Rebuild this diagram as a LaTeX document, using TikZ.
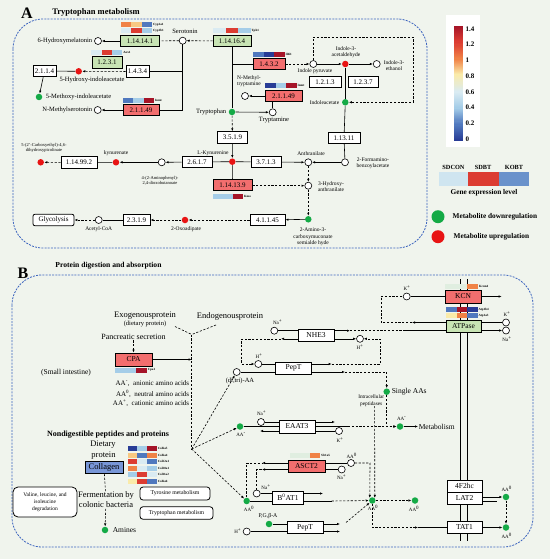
\documentclass[tikz,border=0pt]{standalone}
\usepackage{fontspec}
\setmainfont{Liberation Serif}
\usetikzlibrary{arrows.meta}
\definecolor{bgc}{RGB}{240,244,237}
\definecolor{panblue}{RGB}{60,100,190}
\definecolor{boxgreen}{RGB}{200,228,180}
\definecolor{boxred}{RGB}{242,110,110}
\definecolor{colblue}{RGB}{120,150,215}
\definecolor{upred}{RGB}{232,20,20}
\definecolor{dngreen}{RGB}{20,170,70}
\definecolor{hdr}{RGB}{165,20,40}
\definecolor{hr}{RGB}{220,60,50}
\definecolor{ho}{RGB}{240,130,70}
\definecolor{hlo}{RGB}{248,200,130}
\definecolor{hy}{RGB}{250,235,170}
\definecolor{hp}{RGB}{218,235,242}
\definecolor{hvp}{RGB}{224,238,224}
\definecolor{hlb}{RGB}{165,205,232}
\definecolor{hb}{RGB}{80,120,190}
\definecolor{hdb}{RGB}{40,60,150}
\newcommand{\fsz}[2]{\fontsize{#1}{#2}\selectfont}
% one heatmap row: x, y, cell width, three colours, gene
\newcommand{\hmrow}[7]{%
  \fill[#4] (#1,#2) rectangle ++(#3,5);
  \fill[#5] (#1+#3,#2) rectangle ++(#3,5);
  \fill[#6] (#1+2*#3,#2) rectangle ++(#3,5);
  \node[gene] at (#1+3*#3+0.5,#2+2.5) {#7};}
\tikzset{
  enz/.style={draw, line width=0.9pt, fill=white, minimum height=11.5, inner sep=1pt, font=\fsz{7}{8}},
  tbox/.style={draw, line width=0.8pt, fill=white, minimum height=12, inner sep=1pt, font=\fsz{7.5}{8}},
  gbx/.style={fill=boxgreen},
  rbx/.style={fill=boxred},
  met/.style={circle, draw, line width=0.6pt, fill=white, minimum size=7, inner sep=0},
  upm/.style={circle, fill=upred, minimum size=6.5, inner sep=0},
  dnm/.style={circle, fill=dngreen, minimum size=6.5, inner sep=0},
  lbl/.style={font=\fsz{6.5}{7}, inner sep=0.5pt, align=center},
  sml/.style={font=\fsz{5}{5.6}, inner sep=0.5pt, align=center},
  bt/.style={font=\fsz{8.5}{9}, inner sep=0.5pt, align=center},
  ttl/.style={font=\bfseries\fsz{8.5}{9}, inner sep=0.5pt},
  gene/.style={font=\bfseries\fsz{3.2}{3.5}, inner sep=0.3pt, anchor=west},
  cbl/.style={font=\bfseries\fsz{7}{7}, inner sep=0.3pt, anchor=west},
  rbox/.style={draw, line width=0.8pt, fill=white, rounded corners=3, inner sep=1pt, align=center},
  arr/.style={-{Latex[length=3pt,width=2.4pt]}},
  dsh/.style={dash pattern=on 2.2pt off 1.6pt},
  pan/.style={draw=panblue, dash pattern=on 2pt off 1.2pt, line width=0.8pt, rounded corners=30},
}
\begin{document}
\begin{tikzpicture}[x=1pt,y=-1pt,line width=0.6pt]
\useasboundingbox (0,0) rectangle (550,559);
\fill[bgc] (0,0) rectangle (550,559);

% ---------- A: tryptophan metabolism
\node[font=\bfseries\fsz{16}{16}] (tA) at (27,13) {A};
\node[ttl] (tAt) at (96,12) {Tryptophan metabolism};
\draw[pan] (13,19) rectangle (427,248);

\node[enz,gbx,minimum width=39] (e1) at (140,41) {1.14.14.1};
\node[enz,gbx,minimum width=38] (e2) at (232,41) {1.14.16.4};
\node[enz,gbx,minimum width=30] (e3) at (107,62.5) {1.2.3.1};
\node[enz,minimum width=23] (e4) at (44.5,71) {2.1.1.4};
\node[enz,minimum width=23] (e5) at (137.5,71.5) {1.4.3.4};
\node[enz,rbx,minimum width=36] (e6) at (141,110) {2.1.1.49};
\node[enz,rbx,minimum width=32] (e7) at (269,64) {1.4.3.2};
\node[enz,rbx,minimum width=37] (e8) at (283.5,96) {2.1.1.49};
\node[enz,minimum width=32] (e9) at (325,82) {1.2.1.3};
\node[enz,minimum width=30] (e10) at (363,82) {1.2.3.7};
\node[enz,minimum width=32] (e11) at (344,138) {1.13.11};
\node[enz,minimum width=30] (e12) at (232.5,137.5) {3.5.1.9};
\node[enz,minimum width=30] (e13) at (266,162) {3.7.1.3};
\node[enz,minimum width=30] (e14) at (197,162) {2.6.1.7};
\node[enz,minimum width=36] (e15) at (79,162.5) {1.14.99.2};
\node[enz,rbx,minimum width=39] (e16) at (232.5,185) {1.14.13.9};
\node[enz,minimum width=35] (e17) at (267.5,220) {4.1.1.45};
\node[enz,minimum width=27] (e18) at (136.5,220) {2.3.1.9};
\node[enz,rounded corners=2,minimum width=41,line width=0.8pt] (gly) at (53.5,220) {Glycolysis};

% heatmaps
\hmrow{121}{22.5}{10.3}{ho}{hlo}{hb}{Cyp1a1}
\hmrow{121}{28.3}{10.3}{hp}{hr}{hlb}{Cyp1b1}
\hmrow{213}{28.3}{12.5}{hp}{hr}{hlb}{Tph1}
\hmrow{91.4}{50}{10.3}{hp}{hr}{hlb}{Aox1}
\hmrow{253}{52}{10.5}{hb}{hdb}{hdr}{Il4i1}
\hmrow{265}{83}{10.5}{hdb}{hlb}{hdr}{Inmt}
\hmrow{123}{98}{10.3}{hb}{hlb}{hdr}{Inmt}
\hmrow{213}{193.5}{10}{hlb}{hlb}{hdr}{Kmo}

% compounds
\node[met] (c6hm) at (98,41) {};
\node[lbl,anchor=east] (l6hm) at (93,41) {6-Hydroxymelatonin};
\node[met] (cser) at (182.7,40.7) {};
\node[lbl] (lser) at (185,31.5) {Serotonin};
\node[upm] (c5hi) at (78.7,71.3) {};
\node[lbl] (l5hi) at (92,79.5) {5-Hydroxy-indoleacetate};
\node[dnm] (c5mi) at (39,97) {};
\node[lbl,anchor=west] (l5mi) at (45,97) {5-Methoxy-indoleacetate};
\node[met] (cnms) at (97.7,110) {};
\node[lbl,anchor=east] (lnms) at (93,110) {N-Methylserotonin};
\node[dnm] (ctrp) at (232,112) {};
\node[lbl,anchor=east] (ltrp) at (227,112) {Tryptophan};
\node[met] (ctra) at (272.7,112.3) {};
\node[lbl] (ltra) at (274,120.5) {Tryptamine};
\node[met] (cnmt) at (245,96) {};
\node[sml,font=\fsz{5.5}{6}] (lnmt) at (249,81.5) {N-Methyl-\\tryptamine};
\node[met] (cipy) at (313.3,64) {};
\node[sml,font=\fsz{5.5}{6}] (lipy) at (315,71.5) {Indole pyruvate};
\node[upm] (ciac) at (345.3,64) {};
\node[sml,font=\fsz{5.5}{6}] (liac) at (346,52.5) {Indole-3-\\acetaldehyde};
\node[met] (cie) at (376.7,64) {};
\node[sml,font=\fsz{5.5}{6}] (lie) at (394,65.5) {Indole-3-\\ethanol};
\node[dnm] (cia) at (345.3,102.3) {};
\node[sml,font=\fsz{5.5}{6},anchor=east] (lia) at (340,102.3) {Indoleacetate};
\node[met] (cfb) at (345,162.3) {};
\node[sml,font=\fsz{5.5}{6}] (lfb) at (373,163) {2-Formamino-\\benzoylacetate};
\node[met] (cant) at (308.3,162.3) {};
\node[sml,font=\fsz{5.5}{6}] (lant) at (311,153.5) {Anthranilate};
\node[met] (c3ha) at (308.3,185.7) {};
\node[sml,font=\fsz{5.5}{6}] (l3ha) at (331,187) {3-Hydroxy-\\anthranilate};
\node[dnm] (cacm) at (308.3,219.3) {};
\node[sml,font=\fsz{5.5}{6.5}] (lacm) at (313,237) {2-Amino-3-\\carboxymuconate\\semialde hyde};
\node[upm] (coxo) at (185,220) {};
\node[sml,font=\fsz{5.5}{6}] (loxo) at (186,229) {2-Oxoadipate};
\node[met] (cacoa) at (98.7,220) {};
\node[sml,font=\fsz{5.5}{6}] (lacoa) at (98.7,229) {Acetyl-CoA};
\node[upm] (ckyn) at (232.3,161.7) {};
\node[sml,font=\fsz{5.5}{6}] (lkyn) at (213,153) {L-Kynurenine};
\node[met] (cadb) at (161.7,162.3) {};
\node[sml,font=\fsz{4.5}{5.5}] (ladb) at (160,181) {4-(2-Aminophenyl)-\\2,4-dioxobutanoate};
\node[upm] (ckna) at (116,162.3) {};
\node[sml,font=\fsz{5.5}{6}] (lkna) at (116,153) {kynurenate};
\node[upm] (ccdp) at (40.7,162.3) {};
\node[sml,font=\fsz{4.5}{5.5}] (lcdp) at (44,148) {5-(2'-Carboxyethyl)-4,6-\\dihydroxypicolinate};

% reactions
\draw[arr] (e1) -- (c6hm);
\draw[dsh] (cser) -- (e1);
\draw[dsh,arr] (e2) -- (cser);
\draw[dsh,arr] (e5) -- (c5hi);
\draw (c5hi) -- (e4);
\draw[arr] (e4) -- (c5mi);
\draw[arr] (e6) -- (cnms);
\draw (cser) |- (e6.east);
\draw (cser |- e5.east) -- (e5.east);
\draw (e2) -- (ctrp);
\draw (e2 |- e7.west) -- (e7.west);
\draw[arr] (ctrp) -- (ctra);
\draw (ctra) -- (ctra |- e8.south);
\draw[arr] (e8) -- (cnmt);
\draw[dsh,arr] (e7) -- (cipy);
\draw[arr] (cipy) -- (ciac);
\draw[arr] (ciac) -- (cie);
\draw (ciac) -- (cia);
\coordinate (lp1) at (313.3,37);
\coordinate (lp2) at (413,37);
\coordinate (lp3) at (413,102.3);
\draw[dsh,arr] (cipy) -- (lp1) -- (lp2) -- (lp3) -- (cia);
\draw (cia) -- (e11);
\draw (e11) -- (cfb);
\draw[arr] (cfb) -- (cant);
\draw[arr] (e13) -- (cant);
\draw[dsh,arr] (cant) -- (c3ha);
\draw[dsh,arr] (e16.east |- c3ha) -- (c3ha);
\draw[dsh,arr] (c3ha) -- (cacm);
\draw[arr] (cacm) -- (e17);
\draw[dsh,arr] (e17) -- (coxo);
\draw[dsh,arr] (coxo) -- (e18);
\draw (e18) -- (cacoa);
\draw[dsh,arr] (cacoa) -- (gly);
\draw[dsh,arr] (ctrp) -- (e12);
\draw[arr] (e12) -- (ckyn);
\draw (ckyn) -- (e13);
\draw (ckyn) -- (e14);
\draw[arr] (e14) -- (cadb);
\draw[arr] (cadb) -- (ckna);
\draw (ckna) -- (e15);
\draw[dsh,arr] (e15) -- (ccdp);
\draw (ckyn) -- (e16);

% legend
\fill[white] (446,15) rectangle (480,147);
\foreach \ca/\cb [count=\k from 0] in {hdr/hr, hr/ho, ho/hy, hy/hp, hp/hlb, hlb/hb, hb/hdb}
  \foreach \i in {0,...,15}{
    \pgfmathtruncatemacro\pc{100-\i*100/15}
    \fill[\ca!\pc!\cb] (454,26+\k*16.43+\i*1.027) rectangle (463,26+\k*16.43+\i*1.027+1.2);
  }
\foreach \v in {1.4,1.2,1,0.8,0.6,0.4,0.2,0}
  \node[cbl] at (465,139-78.6*\v) {\v};
\node[font=\bfseries\fsz{6.3}{7}] (lsd) at (453.5,167) {SDCON};
\node[font=\bfseries\fsz{6.3}{7}] (lsb) at (483,167) {SDBT};
\node[font=\bfseries\fsz{6.3}{7}] (lkb) at (514,167) {KOBT};
\fill[hp!80!hlb] (439,172) rectangle (468,186);
\fill[hr] (468,172) rectangle (499,186);
\fill[hb!70!hlb] (499,172) rectangle (529,186);
\node[font=\bfseries\fsz{7.3}{8}] (lgel) at (484,192.5) {Gene expression level};
\node[dnm,minimum size=13] (lgd) at (438,216.7) {};
\node[font=\bfseries\fsz{7.3}{8},anchor=west] (lgdt) at (449,216.5) {Metabolite downregulation};
\node[upm,minimum size=13] (lgu) at (438,236.7) {};
\node[font=\bfseries\fsz{7.3}{8},anchor=west] (lgut) at (450,236.5) {Metabolite upregulation};

% ---------- B: protein digestion and absorption
\node[font=\bfseries\fsz{16}{16}] (tB) at (23,273) {B};
\node[ttl,font=\bfseries\fsz{7.6}{8}] (tBt) at (108.5,266) {Protein digestion and absorption};
\draw[pan] (12,275) rectangle (533,547);

% membrane
\draw[line width=0.7pt] (460,279) -- (460,541);
\draw[line width=0.7pt] (467,279) -- (467,541);

\node[bt] (exo) at (145,315.7) {Exogenousprotein};
\node[lbl] (diet) at (145,323.5) {(dietary protein)};
\node[bt] (endo) at (230,316) {Endogenousprotein};
\coordinate (ex1) at (175,326.5);
\coordinate (en1) at (216,325);
\coordinate (jn) at (191.7,334.5);
\coordinate (fan) at (191.7,449);
\draw[dsh] (ex1) -- (jn);
\draw[dsh] (en1) -- (jn);
\draw[dsh] (jn) -- (fan);
\node[bt,font=\fsz{8}{9}] (panc) at (133.5,337) {Pancreatic secretion};
\node[tbox,rbx,minimum width=37,minimum height=13] (cpa) at (133.5,359.5) {CPA};
\draw[dsh,arr] (panc) -- (cpa);
\draw[arr] (cpa) -- (cpa -| jn);
\hmrow{115}{367.5}{10.6}{hlb}{hlb}{hdr}{Cpa1}
\node[lbl,font=\fsz{7.5}{8}] (smi) at (66,373) {(Small intestine)};
\node[lbl,font=\fsz{7}{8},anchor=east] (aa1) at (190,384) {AA\textsuperscript{-}, \ anionic amino acids};
\node[lbl,font=\fsz{7}{8},anchor=east] (aa2) at (190,393.5) {AA\textsuperscript{0}, \ neutral amino acids};
\node[lbl,font=\fsz{7}{8},anchor=east] (aa3) at (190,403) {AA\textsuperscript{+}, \ cationic amino acids};

\node[font=\bfseries\fsz{8}{9}] (ndp) at (108,435) {Nondigestible peptides and proteins};
\node[bt] (dp1) at (103,445) {Dietary};
\node[bt] (dp2) at (103.5,455.5) {protein};
\node[draw,line width=0.8pt,fill=colblue,minimum width=38,minimum height=12,inner sep=1pt,font=\fsz{8.5}{9}] (col) at (104,467.5) {Collagen};
\hmrow{127.7}{446}{9.7}{hdb}{hlb}{hdr}{Col6a5}
\hmrow{127.7}{452.6}{9.7}{hlo}{hb}{ho}{Col6a4}
\hmrow{127.7}{459.2}{9.7}{hr}{hp}{hb}{Col22a1}
\hmrow{127.7}{465.8}{9.7}{ho}{hp}{hlb}{Col28a1}
\hmrow{127.7}{472.4}{9.7}{hlb}{hr}{hp}{Col11a2}
\hmrow{127.7}{479}{9.7}{hy}{hr}{hb}{Col6a6}
\node[rbox,rounded corners=5,minimum width=64,minimum height=30,font=\fsz{5.5}{7}] (vld) at (45,502) {Valine, leucine, and\\isoleucine\\degradation};
\node[bt,font=\fsz{8.5}{10}] (ferm) at (106,500) {Fermentation by\\colonic bacteria};
\draw[dsh] (col) -- (ferm);
\node[dnm] (amn) at (105,530) {};
\node[bt,font=\fsz{7.5}{8},anchor=west] (lamn) at (112,530) {Amines};
\draw[dsh,arr] (ferm) -- (amn);
\node[rbox,minimum width=70,minimum height=13,font=\fsz{5.8}{6}] (tyr) at (175,493.5) {Tyrosine metabolism};
\node[rbox,minimum width=73,minimum height=12.5,font=\fsz{5.8}{6}] (trpm) at (176.5,513) {Tryptophan metabolism};

% KCN and ATPase
\hmrow{445}{283.5}{11}{hvp}{hvp}{ho}{Kcnn4}
\node[tbox,rbx,minimum width=36,minimum height=13] (kcn) at (463,296.5) {KCN};
\hmrow{446}{307}{10.5}{hb}{hdr}{hdb}{Atp1b4}
\hmrow{446}{313}{10.5}{hy}{ho}{hb}{Atp1a3}
\node[tbox,gbx,minimum width=35] (atp) at (463.5,326.5) {ATPase};
\node[met] (kk) at (406.7,296.5) {};
\node[sml] (lkk) at (407,288) {K\textsuperscript{+}};
\coordinate (k1) at (501.7,296.5);
\draw (kk) -- (kcn);
\draw[arr] (kcn) -- (k1);
\node[met] (ak) at (506,322.5) {};
\node[sml] (lak) at (507,314) {K\textsuperscript{+}};
\node[met] (ana) at (506,330.5) {};
\node[sml] (lana) at (507,339) {Na\textsuperscript{+}};
\draw (ak) -- (ak -| atp.east);
\draw[arr] (atp.east |- ana) -- (ana);
\coordinate (a1) at (412,322.5);
\coordinate (a2) at (381,322.5);
\coordinate (a3) at (381,296.5);
\draw[arr] (atp.west |- a1) -- (a1);
\draw[dsh] (a1) -- (a2) -- (a3) -- (kk);

% NHE3
\node[tbox,minimum width=36] (nhe) at (316,335) {NHE3};
\node[met] (nna) at (274.3,330.7) {};
\node[sml] (lnna) at (277.7,322) {Na\textsuperscript{+}};
\node[met] (nhh) at (360,338.8) {};
\node[sml] (lnhh) at (360,347) {H\textsuperscript{+}};
\coordinate (n1) at (350,330.7);
\coordinate (n3) at (405,330.7);
\draw (nna) -- (nna -| nhe.west);
\draw[arr] (nna -| nhe.east) -- (n1);
\draw[dsh] (n1) -- (n3);
\draw (n3) -- (n3 -| atp.west);
\coordinate (n2) at (281,338.8);
\draw[arr] (nhe.east |- nhh) -- (nhh);
\draw[arr] (nhe.west |- nhh) -- (n2);

% PepT (upper)
\node[tbox,minimum width=36] (pept1) at (293.5,368) {PepT};
\node[met] (ph) at (258.3,364) {};
\node[sml] (lph) at (259,355.7) {H\textsuperscript{+}};
\node[met] (pdt) at (236.7,372) {};
\node[lbl] (lpdt) at (240,380.5) {(di,tri)-AA};
\coordinate (h1) at (241.7,338.8);
\coordinate (h2) at (241.7,364);
\draw[dsh,arr] (n2) -- (h1) -- (h2) -- (ph);
\coordinate (p1) at (331.7,364);
\coordinate (hp1) at (380,364);
\coordinate (hp2) at (380,338.8);
\draw (ph) -- (ph -| pept1.west);
\draw[arr] (ph -| pept1.east) -- (p1);
\draw[dsh,arr] (p1) -- (hp1) -- (hp2) -- (nhh);
\coordinate (p3) at (345,372);
\coordinate (sa1) at (386.7,372);
\node[dnm] (saa) at (386.7,391.7) {};
\node[bt,font=\fsz{7.5}{8},anchor=west] (lsaa) at (391,391.7) {Single AAs};
\draw (pdt) -- (pdt -| pept1.west);
\draw[arr] (pdt -| pept1.east) -- (p3);
\draw[dsh,arr] (p3) -- (sa1) -- (saa);
\node[sml,font=\fsz{5.3}{7},anchor=east] (ipep) at (385,401) {Intracellular\\peptidases};

% EAAT3
\node[tbox,minimum width=36,minimum height=13] (eaat) at (297,426.5) {EAAT3};
\node[met] (ena) at (261,422) {};
\node[sml] (lena) at (261.7,413.5) {Na\textsuperscript{+}};
\node[dnm] (eam) at (240,426.5) {};
\node[sml] (leam) at (241,435) {AA\textsuperscript{-}};
\node[met] (ek) at (339,431) {};
\node[sml] (lek) at (340,440) {K\textsuperscript{+}};
\node[dnm] (aam) at (400,426.5) {};
\node[sml] (laam) at (401.7,418.5) {AA\textsuperscript{-}};
\node[bt,font=\fsz{7.5}{8},anchor=west] (metab) at (418,426.5) {Metabolism};
\draw[arr] (aam) -- (metab);
\coordinate (sa2) at (386.7,426.5);
\draw[dsh,arr] (saa) -- (sa2) -- (aam);
\coordinate (e1c) at (335,422);
\coordinate (e2c) at (348,426.5);
\coordinate (e3c) at (260,431);
\draw (ena) -- (ena -| eaat.west);
\draw[arr] (ena -| eaat.east) -- (e1c);
\draw (eam) -- (eam -| eaat.west);
\draw (eam -| eaat.east) -- (e2c);
\draw[dsh,arr] (e2c) -- (aam);
\draw (ek) -- (ek -| eaat.east);
\draw[arr] (ek -| eaat.west) -- (e3c);

% ASCT2, B0AT1, PepT (lower)
\hmrow{290}{453}{10}{hvp}{hvp}{ho}{Slc1a5}
\node[tbox,rbx,minimum width=37] (asct) at (306.5,466) {ASCT2};
\node[met] (aa0b) at (351,463) {};
\node[sml] (laa0b) at (351.7,455.5) {AA\textsuperscript{0}};
\node[met] (asna) at (341.7,469.5) {};
\node[sml] (lasna) at (341.7,477.5) {Na\textsuperscript{+}};
\node[tbox,minimum width=31,minimum height=13] (bat) at (288,497.5) {B\textsuperscript{0}AT1};
\node[met] (bna) at (256.7,493.5) {};
\node[sml] (lbna) at (266,487.5) {Na\textsuperscript{+}};
\node[dnm] (aa0a) at (246.7,501) {};
\node[sml] (laa0a) at (249,508.5) {AA\textsuperscript{0}};
\node[tbox,minimum width=36] (pept2) at (305,527.5) {PepT};
\node[dnm] (pgb) at (269,524) {};
\node[sml,font=\fsz{5.8}{6}] (lpgb) at (268,516) {P,G,β-A};
\node[met] (ph2) at (246.7,531.5) {};
\node[sml,anchor=east] (lph2) at (242,531.5) {H\textsuperscript{+}};
\node[dnm] (fan2) at (372.3,500.5) {};
\node[sml] (lfan2) at (373,508) {AA\textsuperscript{0}};

\draw[dsh,arr] (fan) -- (pdt);
\draw[dsh,arr] (fan) -- (eam);
\draw[dsh,arr] (fan) -- (aa0a);

\coordinate (as1) at (246.7,463);
\coordinate (as2) at (262,463);
\coordinate (as3) at (262,469.5);
\coordinate (as4) at (256.7,469.5);
\draw[dsh] (aa0a) -- (as1) -- (as2);
\draw[arr] (as2 -| asct.west) -- (as2);
\draw[dsh] (bna) -- (as4) -- (as3);
\draw[arr] (as3 -| asct.west) -- (as3);
\draw (aa0b) -- (aa0b -| asct.east);
\draw (asna) -- (asna -| asct.east);
\coordinate (ac1) at (370,463);
\draw[dsh,arr] (aa0b) -- (ac1) -- (fan2.north west);
\coordinate (pep1) at (374.6,406);
\draw[dsh,arr] (pep1) -- (fan2.north east);

\coordinate (b1) at (323,493.5);
\coordinate (b2) at (331.7,501);
\draw (bna) -- (bna -| bat.west);
\draw[arr] (bna -| bat.east) -- (b1);
\draw (aa0a) -- (aa0a -| bat.west);
\draw (aa0a -| bat.east) -- (b2);
\draw[dsh,arr] (b2) -- (fan2);

\coordinate (q1) at (340,524);
\coordinate (q2) at (340,531.5);
\coordinate (q3) at (346,522.5);
\draw (pgb) -- (pgb -| pept2.west);
\draw[arr] (pgb -| pept2.east) -- (q1);
\draw (ph2) -- (ph2 -| pept2.west);
\draw[arr] (ph2 -| pept2.east) -- (q2);
\draw[dsh,arr] (q3) -- (fan2);

% LAT2 / TAT1
\node[tbox,minimum width=35] (fhc) at (464.5,486) {4F2hc};
\node[tbox,minimum width=35] (lat) at (464.5,498.5) {LAT2};
\node[tbox,minimum width=35] (tat) at (464.5,527.5) {TAT1};
\node[dnm] (aa0c) at (415,500.5) {};
\node[sml] (laa0c) at (414,509) {AA\textsuperscript{0}};
\node[dnm] (aa0d) at (506,497) {};
\node[sml] (laa0d) at (506.7,489) {AA\textsuperscript{0}};
\node[dnm] (aa0e) at (506,527.5) {};
\node[sml] (laa0e) at (506.7,535.5) {AA\textsuperscript{0}};
\draw[dsh,arr] (fan2) -- (aa0c);
\draw[double=bgc,double distance=2.4pt,line width=0.5pt] (aa0c) -- (aa0c -| lat.west);
\draw[arr] (lat.east |- aa0d) -- (aa0d);
\coordinate (l2) at (497,501.5);
\draw (lat.east |- l2) -- (l2);
\draw[dsh,arr] (aa0d) -- (aa0e);
\draw[arr] (tat) -- (aa0e);
\coordinate (t1) at (372.3,527.5);
\coordinate (t2) at (418,527.5);
\draw[dsh,arr] (fan2) -- (t1) -- (t2);
\draw (t2) -- (tat);
\end{tikzpicture}
\end{document}
